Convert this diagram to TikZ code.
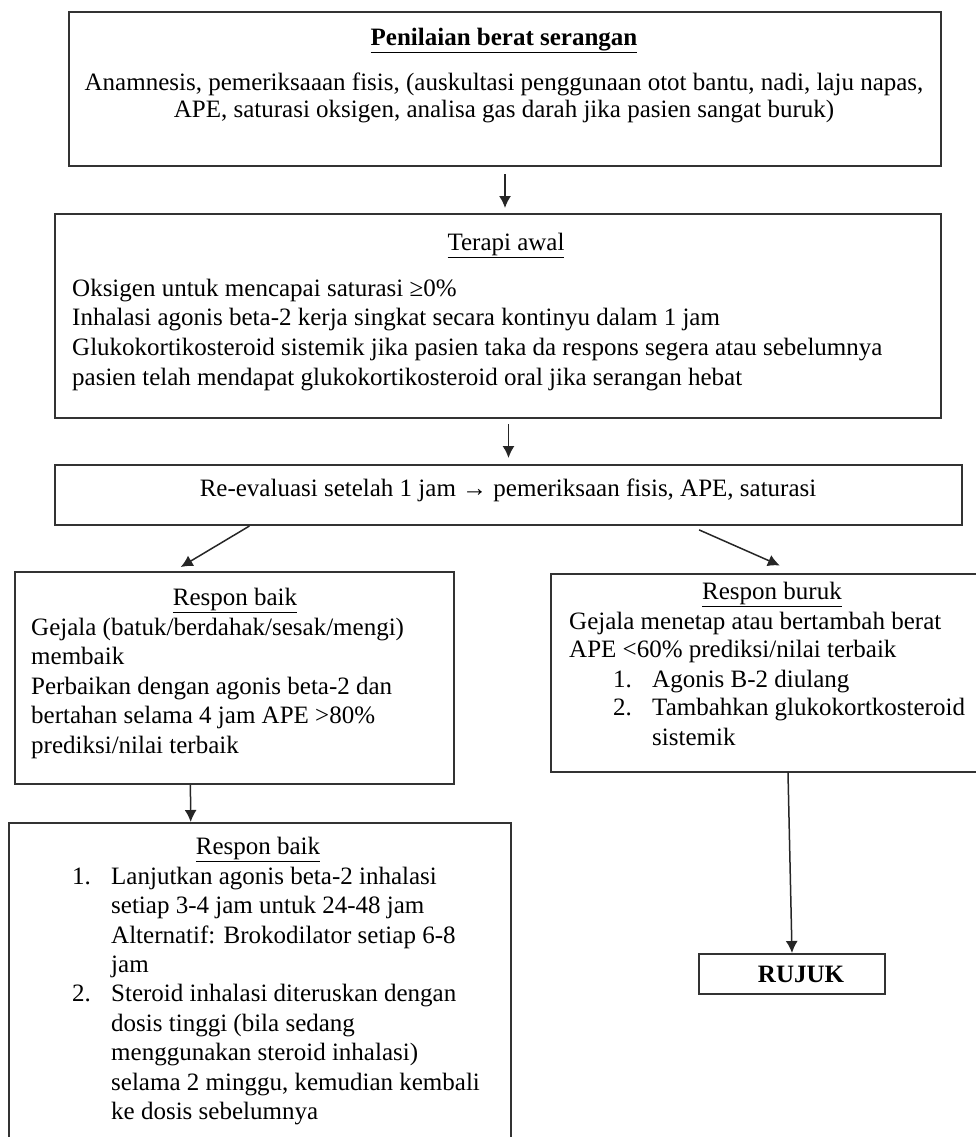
\documentclass[tikz,border=0pt]{standalone}
\usepackage{fontspec}
\setmainfont{Liberation Serif}
\usetikzlibrary{arrows.meta,calc}

\begin{document}
\begin{tikzpicture}[>={Latex[length=12pt,width=12pt]}, x=1pt, y=1pt, font=\fontsize{25}{30}\selectfont]
	\tikzset{
		garis/.style={draw=black!80, line width=2pt},
		kotak/.style={garis, inner sep=0, anchor=north west},
		isi/.style={inner sep=0, anchor=mid west},
		judul/.style={inner sep=0, anchor=mid},
		alur/.style={->, line width=1.5pt, draw=black!85},
	}
	\useasboundingbox (0,0) rectangle (976,-1137);

	% kotak-kotak
	\node[kotak, minimum width=872pt, minimum height=154pt] (nilai) at (68,-11) {};
	\node[kotak, minimum width=886pt, minimum height=204pt] (awal) at (54,-213) {};
	\node[kotak, minimum width=907pt, minimum height=60pt] (evaluasi) at (54,-464) {};
	\node[kotak, minimum width=439pt, minimum height=212pt] (baik) at (14,-571) {};
	\node[kotak, draw=none, minimum width=425pt, minimum height=196pt] (buruk) at (551,-574) {};
	\node[kotak, draw=none, minimum width=500pt, minimum height=314pt] (lanjut) at (9,-823) {};
	\node[kotak, minimum width=186pt, minimum height=40pt] (rujuk) at (698,-953) {\hspace*{18pt}\bfseries RUJUK};
	\draw[garis] (buruk.north east) -- (buruk.north west) -- (buruk.south west) -- (buruk.south east);
	\draw[garis] (lanjut.south west) -- (lanjut.north west) -- (lanjut.north east) -- (lanjut.south east);

	% penilaian
	\node[judul] (nilai-judul) at (504,-43) {\bfseries\underline{Penilaian berat serangan}};
	\node[judul] (nilai-1) at (504,-88) {Anamnesis, pemeriksaaan fisis, (auskultasi penggunaan otot bantu, nadi, laju napas,};
	\node[judul] (nilai-2) at (504,-115) {APE, saturasi oksigen, analisa gas darah jika pasien sangat buruk)};

	% terapi awal
	\node[judul] (awal-judul) at (506,-248) {\underline{Terapi awal}};
	\foreach \baris [count=\i] in {{Oksigen untuk mencapai saturasi ≥0\%},
			{Inhalasi agonis beta-2 kerja singkat secara kontinyu dalam 1 jam},
			{Glukokortikosteroid sistemik jika pasien taka da respons segera atau sebelumnya},
			{pasien telah mendapat glukokortikosteroid oral jika serangan hebat}}
		\node[isi] (awal-\i) at (72, {-294-29.6*(\i-1)}) {\baris};

	% re-evaluasi
	\node[judul] (evaluasi-isi) at (508,-494) {Re-evaluasi setelah 1 jam → pemeriksaan fisis, APE, saturasi};

	% respon baik
	\node[judul] (baik-judul) at (235,-603) {\underline{Respon baik}};
	\foreach \baris [count=\i] in {{Gejala (batuk/berdahak/sesak/mengi)}, {membaik},
			{Perbaikan dengan agonis beta-2 dan}, {bertahan selama 4 jam APE >80\%},
			{prediksi/nilai terbaik}}
		\node[isi] (baik-\i) at (31, {-633-29.5*(\i-1)}) {\baris};

	% respon buruk
	\node[judul] (buruk-judul) at (772,-597) {\underline{Respon buruk}};
	\node[isi] (buruk-1) at (569,-627) {Gejala menetap atau bertambah berat};
	\node[isi] (buruk-2) at (569,-655) {APE <60\% prediksi/nilai terbaik};
	\node[isi] (buruk-n1) at (613,-685) {1.};
	\node[isi] (buruk-3) at (652,-685) {Agonis B-2 diulang};
	\node[isi] (buruk-n2) at (613,-713) {2.};
	\node[isi] (buruk-4) at (652,-713) {Tambahkan glukokortkosteroid};
	\node[isi] (buruk-5) at (652,-743) {sistemik};

	% lanjutan respon baik
	\node[judul] (lanjut-judul) at (258,-852) {\underline{Respon baik}};
	\node[isi] (lanjut-n1) at (72,-882) {1.};
	\node[isi] (lanjut-n2) at (72,-999) {2.};
	\foreach \baris [count=\i] in {{Lanjutkan agonis beta-2 inhalasi}, {setiap 3-4 jam untuk 24-48 jam},
			{Alternatif: Brokodilator setiap 6-8}, {jam}, {Steroid inhalasi diteruskan dengan},
			{dosis tinggi (bila sedang}, {menggunakan steroid inhalasi)},
			{selama 2 minggu, kemudian kembali}, {ke dosis sebelumnya}}
		\node[isi] (lanjut-\i) at (111, {-882-29.4*(\i-1)}) {\baris};

	% panah
	\draw[alur, shorten <=7pt, shorten >=5pt] (nilai.south) -- (nilai.south |- awal.north);
	\draw[alur, shorten <=5pt, shorten >=6pt] (awal.south -| evaluasi.north) -- (evaluasi.north);
	\draw[alur, shorten >=7.7pt] ($(evaluasi.south west)!0.215!(evaluasi.south east)$)
		-- ($(baik.north west)!0.363!(baik.north east)$);
	\draw[alur, shorten <=9.6pt, shorten >=21pt] ($(evaluasi.south west)!0.70!(evaluasi.south east)$)
		-- ($(buruk.north west)!0.581!(buruk.north east)$);
	\draw[alur, shorten >=1pt] ($(baik.south west)!0.4!(baik.south east)$)
		-- ($(lanjut.north west)!0.362!(lanjut.north east)$);
	\draw[alur] ($(buruk.south west)!0.555!(buruk.south east)$) -- (rujuk.north);
\end{tikzpicture}
\end{document}
